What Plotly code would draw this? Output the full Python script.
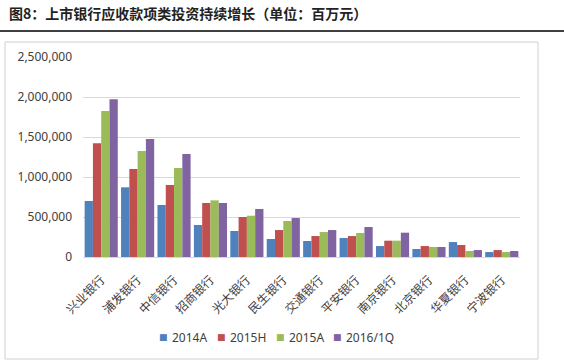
import plotly.graph_objects as go

categories = ["兴业银行", "浦发银行", "中信银行", "招商银行", "光大银行", "民生银行",
              "交通银行", "平安银行", "南京银行", "北京银行", "华夏银行", "宁波银行"]
s2014A = [700000, 871000, 650000, 400000, 325000, 225000, 200000, 237000, 137000, 100000, 187000, 62000]
s2015H = [1421000, 1100000, 900000, 675000, 500000, 337000, 262000, 262000, 204000, 137000, 150000, 87000]
s2015A = [1825000, 1325000, 1112000, 708000, 516000, 450000, 312000, 300000, 204000, 125000, 75000, 62000]
s2016Q1 = [1971000, 1475000, 1287000, 675000, 600000, 487000, 337000, 375000, 304000, 125000, 87000, 75000]
series_names = ["2014A", "2015H", "2015A", "2016/1Q"]
colors = ["#4F81BD", "#C0504D", "#9BBB59", "#8064A2"]
title_text = "图8：上市银行应收款项类投资持续增长（单位：百万元）"

W, H = 564, 364
L, R, T, B = 83, 44, 57, 107
pw, ph = W - L - R, H - T - B


def px(x):
    return (x - L) / pw


def py(y):
    return (H - B - y) / ph


fig = go.Figure()
for name, vals, c in zip(series_names, [s2014A, s2015H, s2015A, s2016Q1], colors):
    fig.add_trace(go.Bar(x=categories, y=vals, name=name, marker=dict(color=c, line=dict(width=0))))

# legend built as annotations (compact Excel-like spacing)
legend_x = [163, 221, 280, 337]
annotations = [
    dict(text="<b>" + title_text + "</b>", xref="paper", yref="paper", x=px(7), y=py(13),
         xanchor="left", yanchor="middle", showarrow=False,
         font=dict(size=14, family="Noto Sans CJK SC", color="#222222")),
]
for name, c, lx in zip(series_names, colors, legend_x):
    annotations.append(dict(text="■", xref="paper", yref="paper", x=px(lx), y=py(337),
                            xanchor="center", yanchor="middle", showarrow=False,
                            font=dict(size=9, family="DejaVu Sans", color=c)))
    annotations.append(dict(text=name, xref="paper", yref="paper", x=px(lx + 7), y=py(337),
                            xanchor="left", yanchor="middle", showarrow=False,
                            font=dict(size=12, family="Noto Sans", color="#404040")))

fig.update_layout(
    width=W, height=H,
    margin=dict(l=L, r=R, t=T, b=B),
    paper_bgcolor="white", plot_bgcolor="white",
    barmode="group", bargap=0.09, bargroupgap=0,
    font=dict(family="Noto Sans CJK SC, sans-serif", color="#404040"),
    showlegend=False,
    xaxis=dict(tickangle=-45, tickfont=dict(size=12, family="Noto Sans CJK SC", color="#404040"),
               showline=True, linecolor="#D9D9D9", linewidth=1, ticks="", showgrid=False,
               ticklabelstandoff=10),
    yaxis=dict(range=[0, 2500000], dtick=500000, tickformat=",d", showgrid=True,
               gridcolor="#D9D9D9", gridwidth=1, zeroline=False, showline=False, ticks="",
               tickfont=dict(size=12, family="Noto Sans, sans-serif", color="#404040"),
               ticklabelstandoff=10),
    shapes=[
        dict(type="rect", xref="paper", yref="paper", x0=px(5), x1=px(538), y0=py(359), y1=py(42),
             line=dict(color="#D0D0D0", width=1), layer="below"),
        dict(type="line", xref="paper", yref="paper", x0=px(0), x1=px(564), y0=py(31), y1=py(31),
             line=dict(color="black", width=1.5)),
    ],
    annotations=annotations,
)

fig.write_html("out.html")
